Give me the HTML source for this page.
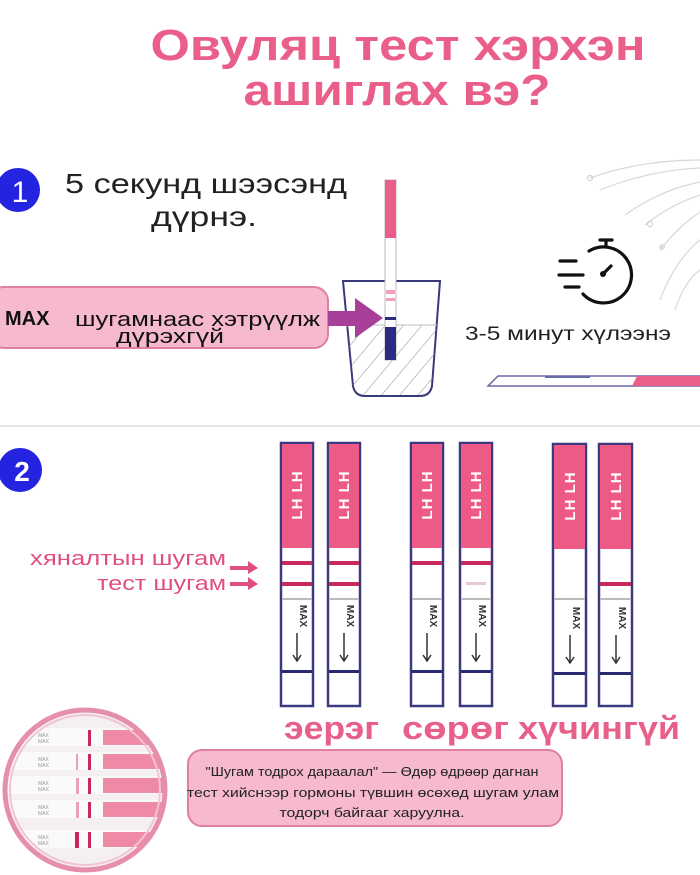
<!DOCTYPE html>
<html><head><meta charset="utf-8"><style>
html,body{margin:0;padding:0;background:#fff;width:700px;height:875px;overflow:hidden}
svg{display:block}
text{font-family:"Liberation Sans","DejaVu Sans",sans-serif}
</style></head><body>
<svg width="700" height="875" viewBox="0 0 700 875" xmlns="http://www.w3.org/2000/svg">
<defs>
<pattern id="hatch" width="14" height="14" patternUnits="userSpaceOnUse" patternTransform="rotate(40)">
<line x1="0" y1="0" x2="0" y2="14" stroke="#8a8aa0" stroke-width="1"/>
</pattern>
<clipPath id="mag"><circle cx="85" cy="790" r="78"/></clipPath>
</defs>

<!-- Title -->
<text x="398" y="60" text-anchor="middle" font-size="44" font-weight="bold" fill="#ea5f8a" textLength="495" lengthAdjust="spacingAndGlyphs">Овуляц тест хэрхэн</text>
<text x="397" y="105" text-anchor="middle" font-size="44" font-weight="bold" fill="#ea5f8a" textLength="307" lengthAdjust="spacingAndGlyphs">ашиглах вэ?</text>

<!-- decorative curves -->
<g fill="none" stroke="#d8d8d8" stroke-width="1.2">
<path d="M590 178 Q640 160 700 160"/>
<path d="M600 190 Q650 170 700 168"/>
<path d="M625 215 Q660 190 700 182"/>
<path d="M645 225 Q670 205 700 195"/>
<path d="M660 250 Q680 225 700 212"/>
<path d="M660 300 Q675 260 700 240"/>
<path d="M675 310 Q685 280 700 270"/>
</g>
<circle cx="590" cy="178" r="2.5" fill="none" stroke="#ccc"/>
<circle cx="650" cy="224" r="2.5" fill="none" stroke="#ccc"/>
<circle cx="662" cy="247" r="3" fill="#ddd"/>

<!-- Step 1 -->
<circle cx="18" cy="190" r="22" fill="#2323e0"/>
<text x="20" y="202" text-anchor="middle" font-size="30" fill="#fff">1</text>
<text x="65" y="193" font-size="28" fill="#222" textLength="282" lengthAdjust="spacingAndGlyphs">5 секунд шээсэнд</text>
<text x="151" y="226" font-size="28" fill="#222" textLength="106" lengthAdjust="spacingAndGlyphs">дүрнэ.</text>

<!-- cup -->
<path d="M343 281 L440 281 L432 386 Q430 396 420 396 L365 396 Q355 396 353 386 Z" fill="#fff" stroke="#3a3a7a" stroke-width="2"/>
<path d="M346 325 L437 325 L432 386 Q430 395 420 395 L365 395 Q355 395 353 386 Z" fill="url(#hatch)"/>
<line x1="346" y1="325" x2="437" y2="325" stroke="#bbb" stroke-width="1"/>
<!-- vertical strip -->
<rect x="385" y="180" width="11" height="180" fill="#fff" stroke="#bbb" stroke-width="1"/>
<rect x="385" y="180" width="11" height="58" fill="#ea5f8a"/>
<rect x="386" y="290" width="9" height="4" fill="#ea5f8a" opacity="0.6"/>
<rect x="386" y="298" width="9" height="3" fill="#ea5f8a" opacity="0.6"/>
<rect x="385" y="317" width="11" height="3" fill="#2a2a80"/>
<rect x="385" y="327" width="11" height="33" fill="#2a2a80"/>

<!-- pink box 1 -->
<rect x="-10" y="287" width="338" height="61" rx="14" fill="#f6b9cf" stroke="#e07fa0" stroke-width="2"/>
<text x="5" y="325" font-size="20" font-weight="bold" fill="#111">MAX</text>
<text x="75" y="326" font-size="20" fill="#111" textLength="245" lengthAdjust="spacingAndGlyphs">шугамнаас хэтрүүлж</text>
<text x="116" y="343" font-size="20" fill="#111" textLength="108" lengthAdjust="spacingAndGlyphs">дүрэхгүй</text>
<!-- arrow -->
<path d="M328 311 L355 311 L355 298 L383 318 L355 338 L355 326 L328 326 Z" fill="#a8409a"/>

<!-- stopwatch -->
<g fill="none" stroke="#111" stroke-width="3.2" stroke-linecap="round">
<path d="M589 251 A28 28 0 1 1 583 294"/>
<line x1="600" y1="240" x2="612" y2="240"/>
<line x1="606" y1="240" x2="606" y2="245"/>
<line x1="560" y1="261" x2="576" y2="261"/>
<line x1="559" y1="275" x2="583" y2="275"/>
<line x1="565" y1="287" x2="579" y2="287"/>
<line x1="603" y1="274" x2="611" y2="266"/>
</g>
<circle cx="603" cy="274" r="3" fill="#111"/>
<text x="465" y="340" font-size="19" fill="#222" textLength="206" lengthAdjust="spacingAndGlyphs">3-5 минут хүлээнэ</text>
<!-- horizontal strip -->
<path d="M498 376 L700 376 L700 386 L488 386 Z" fill="#fff" stroke="#6a6aaa" stroke-width="1.5"/>
<path d="M637 376 L700 376 L700 386 L632 386 Z" fill="#ea5f8a"/>
<line x1="545" y1="377" x2="590" y2="377" stroke="#6a6aaa" stroke-width="2"/>

<!-- divider -->
<line x1="0" y1="426" x2="700" y2="426" stroke="#e4e4e4" stroke-width="2"/>

<!-- Step 2 -->
<circle cx="20" cy="470" r="22" fill="#2323e0"/>
<text x="22" y="481" text-anchor="middle" font-size="28" font-weight="bold" fill="#fff">2</text>

<text x="226" y="565" text-anchor="end" font-size="20" fill="#e0507c" textLength="196" lengthAdjust="spacingAndGlyphs">хяналтын шугам</text>
<text x="226" y="590" text-anchor="end" font-size="20" fill="#e0507c" textLength="129" lengthAdjust="spacingAndGlyphs">тест шугам</text>
<path d="M230 566 L248 566 L248 561 L258 568 L248 574 L248 570 L230 570 Z" fill="#e0507c"/>
<path d="M230 582 L248 582 L248 577 L258 584 L248 590 L248 586 L230 586 Z" fill="#e0507c"/>

<!-- strips -->
<g id="strips">
<!-- generic strip builder repeated -->
</g>
<g stroke="#3a3a80" stroke-width="2.5">
<rect x="281" y="443" width="32" height="263" fill="#fff"/>
<rect x="328" y="443" width="32" height="263" fill="#fff"/>
<rect x="411" y="443" width="32" height="263" fill="#fff"/>
<rect x="460" y="443" width="32" height="263" fill="#fff"/>
<rect x="553" y="444" width="33" height="262" fill="#fff"/>
<rect x="599" y="444" width="33" height="262" fill="#fff"/>
</g>
<g fill="#ee5a86">
<rect x="282" y="444" width="30" height="104"/>
<rect x="329" y="444" width="30" height="104"/>
<rect x="412" y="444" width="30" height="104"/>
<rect x="461" y="444" width="30" height="104"/>
<rect x="554" y="445" width="31" height="104"/>
<rect x="600" y="445" width="31" height="104"/>
</g>
<g font-size="15" fill="#fff" font-weight="bold" text-anchor="middle">
<text transform="translate(302,495) rotate(-90)" letter-spacing="1">LH LH</text>
<text transform="translate(349,495) rotate(-90)" letter-spacing="1">LH LH</text>
<text transform="translate(432,495) rotate(-90)" letter-spacing="1">LH LH</text>
<text transform="translate(481,495) rotate(-90)" letter-spacing="1">LH LH</text>
<text transform="translate(575,496) rotate(-90)" letter-spacing="1">LH LH</text>
<text transform="translate(621,496) rotate(-90)" letter-spacing="1">LH LH</text>
</g>
<!-- control lines -->
<g fill="#c8285a">
<rect x="282" y="561" width="30" height="4"/>
<rect x="329" y="561" width="30" height="4"/>
<rect x="412" y="561" width="30" height="4"/>
<rect x="461" y="561" width="30" height="4"/>
<rect x="282" y="582" width="30" height="4"/>
<rect x="329" y="582" width="30" height="4"/>
<rect x="600" y="582" width="31" height="4"/>
</g>
<rect x="466" y="582" width="20" height="3" fill="#e8c8d2"/>
<!-- grey lines -->
<g fill="#bbb">
<rect x="282" y="598" width="30" height="2"/>
<rect x="329" y="598" width="30" height="2"/>
<rect x="412" y="598" width="30" height="2"/>
<rect x="461" y="598" width="30" height="2"/>
<rect x="554" y="598" width="31" height="2"/>
<rect x="600" y="598" width="31" height="2"/>
</g>
<!-- navy lines -->
<g fill="#2a2a70">
<rect x="282" y="670" width="30" height="3"/>
<rect x="329" y="670" width="30" height="3"/>
<rect x="412" y="670" width="30" height="3"/>
<rect x="461" y="670" width="30" height="3"/>
<rect x="554" y="672" width="31" height="3"/>
<rect x="600" y="672" width="31" height="3"/>
</g>
<!-- MAX arrows -->
<g font-size="10" font-weight="bold" fill="#333" text-anchor="middle">
<text transform="translate(300,616) rotate(90)">MAX</text>
<text transform="translate(347,616) rotate(90)">MAX</text>
<text transform="translate(430,616) rotate(90)">MAX</text>
<text transform="translate(479,616) rotate(90)">MAX</text>
<text transform="translate(573,618) rotate(90)">MAX</text>
<text transform="translate(619,618) rotate(90)">MAX</text>
</g>
<g stroke="#333" stroke-width="1.5" fill="none">
<path d="M297 633 L297 660 M293 655 L297 661 L301 655"/>
<path d="M344 633 L344 660 M340 655 L344 661 L348 655"/>
<path d="M427 633 L427 660 M423 655 L427 661 L431 655"/>
<path d="M476 633 L476 660 M472 655 L476 661 L480 655"/>
<path d="M570 635 L570 662 M566 657 L570 663 L574 657"/>
<path d="M616 635 L616 662 M612 657 L616 663 L620 657"/>
</g>

<!-- result labels -->
<g font-size="32" font-weight="bold" fill="#e8608a">
<text x="284" y="739" textLength="95" lengthAdjust="spacingAndGlyphs">эерэг</text>
<text x="402" y="739" textLength="107" lengthAdjust="spacingAndGlyphs">сөрөг</text>
<text x="518" y="739" textLength="162" lengthAdjust="spacingAndGlyphs">хүчингүй</text>
</g>

<!-- magnifier -->
<g clip-path="url(#mag)">
<rect x="0" y="700" width="170" height="175" fill="#f4f0f2"/>
<g>
<rect x="0" y="728" width="170" height="18" fill="#fafafa"/>
<rect x="0" y="752" width="170" height="18" fill="#fafafa"/>
<rect x="0" y="776" width="170" height="18" fill="#fafafa"/>
<rect x="0" y="800" width="170" height="18" fill="#fafafa"/>
<rect x="0" y="830" width="170" height="18" fill="#fafafa"/>
<g fill="#ef8aa6">
<rect x="103" y="730" width="62" height="15"/><rect x="103" y="754" width="62" height="15"/><rect x="103" y="778" width="62" height="15"/><rect x="103" y="802" width="62" height="15"/><rect x="103" y="832" width="62" height="15"/>
</g>
<g fill="#c8285a">
<rect x="88" y="730" width="3" height="16"/><rect x="88" y="754" width="3" height="16"/><rect x="88" y="778" width="3" height="16"/><rect x="88" y="802" width="3" height="16"/><rect x="88" y="832" width="3" height="16"/>
</g>
<g fill="#eaa0b8">
<rect x="76" y="754" width="2" height="16"/><rect x="76" y="778" width="3" height="16"/><rect x="76" y="802" width="3" height="16"/>
</g>
<rect x="75" y="832" width="4" height="16" fill="#c8285a"/>
<g font-size="5" fill="#999">
<text x="38" y="737">MAX</text><text x="38" y="743">MAX</text>
<text x="38" y="761">MAX</text><text x="38" y="767">MAX</text>
<text x="38" y="785">MAX</text><text x="38" y="791">MAX</text>
<text x="38" y="809">MAX</text><text x="38" y="815">MAX</text>
<text x="38" y="839">MAX</text><text x="38" y="845">MAX</text>
</g>
</g>
</g>
<circle cx="85" cy="790" r="80" fill="none" stroke="#e58fab" stroke-width="5"/>
<circle cx="85" cy="790" r="75" fill="none" stroke="#f3c3d3" stroke-width="2"/>

<!-- pink box 2 -->
<rect x="188" y="750" width="374" height="76" rx="14" fill="#f6b9cf" stroke="#e07fa0" stroke-width="2"/>
<g font-size="13" fill="#222" text-anchor="middle">
<text x="372" y="776" textLength="333" lengthAdjust="spacingAndGlyphs">"Шугам тодрох дараалал" — Өдөр өдрөөр дагнан</text>
<text x="373" y="797" textLength="372" lengthAdjust="spacingAndGlyphs">тест хийснээр гормоны түвшин өсөхөд шугам улам</text>
<text x="372" y="817" textLength="185" lengthAdjust="spacingAndGlyphs">тодорч байгааг харуулна.</text>
</g>
</svg>
</body></html>
